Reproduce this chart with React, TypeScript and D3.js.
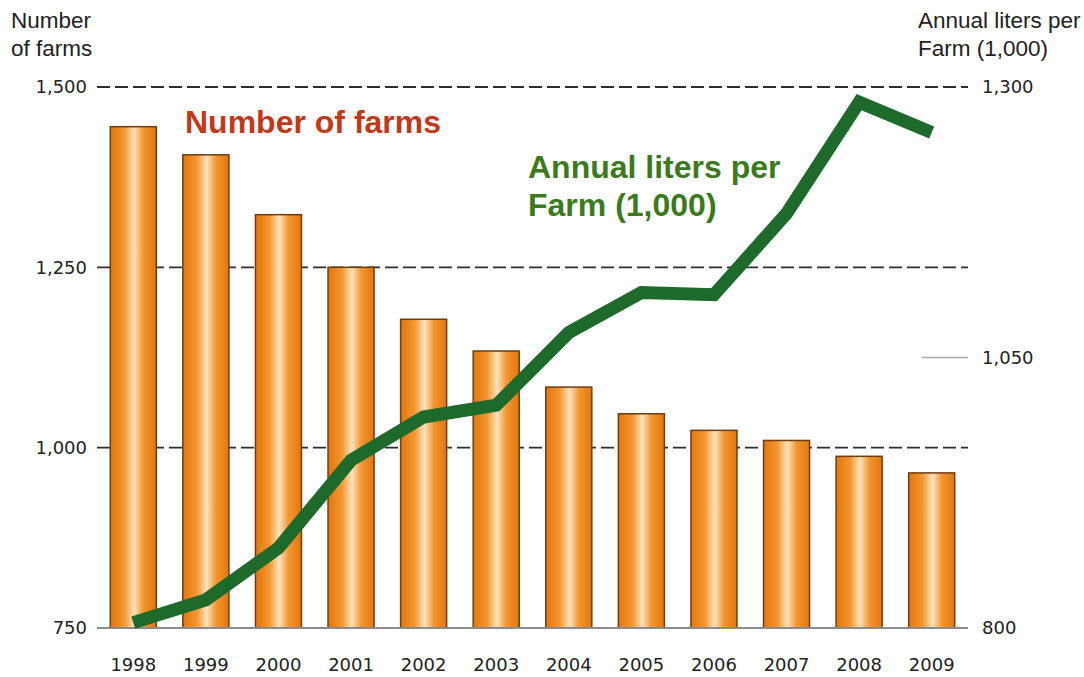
import React, { useEffect, useRef } from "react";
import * as d3 from "d3";

const years = ["1998", "1999", "2000", "2001", "2002", "2003", "2004", "2005", "2006", "2007", "2008", "2009"];
const farms = [1445, 1406, 1323, 1250, 1178, 1134, 1084, 1047, 1024, 1010, 988, 965];
const litersPerFarm = [805, 826, 874, 955, 995, 1006, 1073, 1110, 1108, 1183, 1286, 1258];
const leftTicks = [750, 1000, 1250, 1500];
const rightTicks = [800, 1050, 1300];

const App = () => {
  const svgRef = useRef<SVGSVGElement>(null);

  useEffect(() => {
    const width = 1084;
    const height = 677;
    const marginLeft = 97;
    const marginRight = 116;
    const top = 87;
    const bottom = 628;

    const svg = d3.select(svgRef.current).attr("width", width).attr("height", height);
    svg.selectAll("*").remove();

    const x = d3
      .scaleBand<string>()
      .domain(years)
      .range([marginLeft, width - marginRight])
      .paddingInner(0.366)
      .paddingOuter(0.183);

    const yLeft = d3.scaleLinear().domain([750, 1500]).range([bottom, top]);
    const yRight = d3.scaleLinear().domain([800, 1300]).range([bottom, top]);

    // bar gradient
    const grad = svg
      .append("defs")
      .append("linearGradient")
      .attr("id", "barGrad")
      .attr("x1", "0%")
      .attr("x2", "100%");
    grad.append("stop").attr("offset", "0%").attr("stop-color", "#e2760e");
    grad.append("stop").attr("offset", "30%").attr("stop-color", "#f3962f");
    grad.append("stop").attr("offset", "52%").attr("stop-color", "#fde2bd");
    grad.append("stop").attr("offset", "72%").attr("stop-color", "#f3962f");
    grad.append("stop").attr("offset", "100%").attr("stop-color", "#e2760e");

    // grid lines
    svg
      .append("g")
      .selectAll("line")
      .data(leftTicks.filter((t) => t !== 750))
      .join("line")
      .attr("x1", marginLeft)
      .attr("x2", width - marginRight)
      .attr("y1", (d) => yLeft(d))
      .attr("y2", (d) => yLeft(d))
      .attr("stroke", "#2e2e2e")
      .attr("stroke-width", 1.8)
      .attr("stroke-dasharray", "13 5");

    // right-axis 1,050 tick mark
    svg
      .append("line")
      .attr("x1", width - marginRight - 46)
      .attr("x2", width - marginRight)
      .attr("y1", yRight(1050))
      .attr("y2", yRight(1050))
      .attr("stroke", "#a8a8a8")
      .attr("stroke-width", 1.5);

    // bars
    svg
      .append("g")
      .selectAll("rect")
      .data(farms)
      .join("rect")
      .attr("x", (_, i) => x(years[i])!)
      .attr("width", x.bandwidth())
      .attr("y", (d) => yLeft(d))
      .attr("height", (d) => yLeft(750) - yLeft(d))
      .attr("fill", "url(#barGrad)")
      .attr("stroke", "#6e3c10")
      .attr("stroke-width", 1.5);

    // baseline
    svg
      .append("line")
      .attr("x1", marginLeft)
      .attr("x2", width - marginRight)
      .attr("y1", yLeft(750))
      .attr("y2", yLeft(750))
      .attr("stroke", "#8c8c8c")
      .attr("stroke-width", 2);

    // liters line
    const line = d3
      .line<number>()
      .x((_, i) => x(years[i])! + x.bandwidth() / 2)
      .y((d) => yRight(d));

    svg
      .append("path")
      .datum(litersPerFarm)
      .attr("fill", "none")
      .attr("stroke", "#1d6a2b")
      .attr("stroke-width", 13)
      .attr("stroke-linejoin", "miter")
      .attr("d", line);

    const tickFont = "'DejaVu Sans', Verdana, sans-serif";

    // left ticks
    svg
      .append("g")
      .selectAll("text")
      .data(leftTicks)
      .join("text")
      .attr("x", 87)
      .attr("y", (d) => yLeft(d))
      .attr("dy", "0.35em")
      .attr("text-anchor", "end")
      .attr("font-family", tickFont)
      .attr("font-size", 18)
      .attr("fill", "#222")
      .text((d) => d3.format(",")(d));

    // right ticks
    svg
      .append("g")
      .selectAll("text")
      .data(rightTicks)
      .join("text")
      .attr("x", 982)
      .attr("y", (d) => yRight(d))
      .attr("dy", "0.35em")
      .attr("font-family", tickFont)
      .attr("font-size", 18)
      .attr("fill", "#222")
      .text((d) => d3.format(",")(d));

    // year labels
    svg
      .append("g")
      .selectAll("text")
      .data(years)
      .join("text")
      .attr("x", (d) => x(d)! + x.bandwidth() / 2)
      .attr("y", 671)
      .attr("text-anchor", "middle")
      .attr("font-family", tickFont)
      .attr("font-size", 18)
      .attr("fill", "#222")
      .text((d) => d);

    const labelFont = "'Liberation Sans', Arial, sans-serif";

    // axis titles
    const leftTitle = svg
      .append("text")
      .attr("font-family", labelFont)
      .attr("font-size", 22.5)
      .attr("fill", "#222");
    leftTitle.append("tspan").attr("x", 11).attr("y", 28).text("Number");
    leftTitle.append("tspan").attr("x", 11).attr("y", 56).text("of farms");

    const rightTitle = svg
      .append("text")
      .attr("font-family", labelFont)
      .attr("font-size", 22.5)
      .attr("fill", "#222");
    rightTitle.append("tspan").attr("x", 918).attr("y", 28).text("Annual liters per");
    rightTitle.append("tspan").attr("x", 918).attr("y", 56).text("Farm (1,000)");

    // series labels
    svg
      .append("text")
      .attr("x", 185)
      .attr("y", 133)
      .attr("font-family", labelFont)
      .attr("font-size", 32)
      .attr("font-weight", "bold")
      .attr("fill", "#c2391a")
      .text("Number of farms");

    const greenLabel = svg
      .append("text")
      .attr("font-family", labelFont)
      .attr("font-size", 32)
      .attr("font-weight", "bold")
      .attr("fill", "#3b7a1d");
    greenLabel.append("tspan").attr("x", 528).attr("y", 178).text("Annual liters per");
    greenLabel.append("tspan").attr("x", 528).attr("y", 216).text("Farm (1,000)");
  }, []);

  return (
    <div style={{ position: "absolute", left: 0, top: 0, background: "#fff" }}>
      <svg ref={svgRef} style={{ display: "block" }}></svg>
    </div>
  );
};

export default App;
